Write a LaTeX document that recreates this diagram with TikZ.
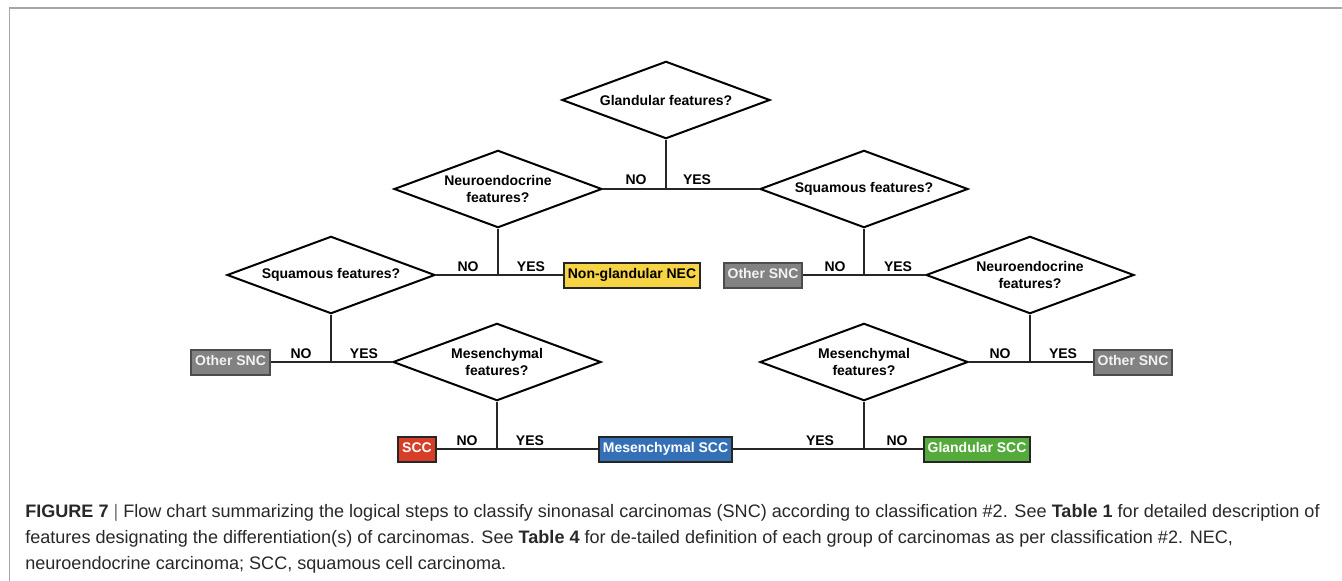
\documentclass[tikz,border=0pt]{standalone}
\usepackage{fontspec}
\setmainfont{Liberation Sans}
\usetikzlibrary{shapes.geometric,calc}

\definecolor{necyellow}{RGB}{246,212,68}
\definecolor{snsgray}{RGB}{130,130,130}
\definecolor{sccred}{RGB}{214,62,40}
\definecolor{mesblue}{RGB}{52,112,182}
\definecolor{glagreen}{RGB}{84,170,58}
\definecolor{framegray}{RGB}{165,165,165}
\definecolor{captext}{RGB}{40,40,40}

\begin{document}
\begin{tikzpicture}[x=0.75pt, y=-0.75pt,
		question/.style={diamond, draw=black, line width=1.5pt, aspect=2.7, inner sep=0pt,
			minimum width=156pt, minimum height=58pt, align=center,
			font=\fontsize{10.5}{12.75}\selectfont\bfseries},
		result/.style={rectangle, draw=black!85, line width=1.5pt, inner xsep=3pt, inner ysep=0pt,
			minimum height=18.75pt, text height=7.8pt, text depth=2pt, text=white,
			font=\fontsize{10.5}{12.75}\selectfont\bfseries},
		link/.style={line width=0.9pt, black!85},
		answer/.style={anchor=base, font=\fontsize{10.5}{12.75}\selectfont\bfseries},
		caption/.style={anchor=base west, inner sep=0pt, text=captext,
			font=\fontsize{13.55}{16}\selectfont}]
		\useasboundingbox (0,0) rectangle (1342,581);

		% Ramme
		\draw[framegray, line width=1pt] (1342,8) -- (9.5,8) -- (9.5,581);

		% Spørsmål
		\node[question] (glan) at (666,100) {Glandular features?};
		\node[question] (neuL) at (498,189) {Neuroendocrine\\features?};
		\node[question] (squR) at (864,189) {Squamous features?};
		\node[question] (squL) at (331,275) {Squamous features?};
		\node[question] (neuR) at (1030,275) {Neuroendocrine\\features?};
		\node[question] (mesL) at (497,362) {Mesenchymal\\features?};
		\node[question] (mesR) at (864,362) {Mesenchymal\\features?};

		% Grupper
		\node[result, fill=necyellow, text=black] (nec) at (632,275) {Non-glandular NEC};
		\node[result, fill=snsgray, draw=black!70, text=black!5] (othA) at (763,275) {Other SNC};
		\node[result, fill=snsgray, draw=black!70, text=black!5] (othB) at (230.5,362) {Other SNC};
		\node[result, fill=snsgray, draw=black!70, text=black!5] (othC) at (1133,362) {Other SNC};
		\node[result, fill=sccred] (scc) at (417,449) {SCC};
		\node[result, fill=mesblue] (mscc) at (665.5,449) {Mesenchymal SCC};
		\node[result, fill=glagreen] (gscc) at (977,449) {Glandular SCC};

		% Forgreiningspunkt
		\coordinate (jA) at (glan.south |- neuL.east);
		\coordinate (jB) at (neuL.south |- squL.east);
		\coordinate (jC) at (squR.south |- neuR.west);
		\coordinate (jD) at (squL.south |- mesL.west);
		\coordinate (jE) at (neuR.south |- mesR.east);
		\coordinate (jF) at (mesL.south |- scc.east);
		\coordinate (jG) at (mesR.south |- gscc.west);

		% Linjer
		\draw[link] (glan.south) -- (jA);
		\draw[link] (neuL.east) -- (squR.west);
		\draw[link] (neuL.south) -- (jB);
		\draw[link] (squL.east) -- (nec.west);
		\draw[link] (squR.south) -- (jC);
		\draw[link] (othA.east) -- (neuR.west);
		\draw[link] (squL.south) -- (jD);
		\draw[link] (othB.east) -- (mesL.west);
		\draw[link] (neuR.south) -- (jE);
		\draw[link] (mesR.east) -- (othC.west);
		\draw[link] (mesL.south) -- (jF);
		\draw[link] (scc.east) -- (mscc.west);
		\draw[link] (mesR.south) -- (jG);
		\draw[link] (mscc.east) -- (gscc.west);

		% Svar
		\node[answer] (noA) at ($(jA)+(-30,-4)$) {NO};
		\node[answer] (yesA) at ($(jA)+(31,-4)$) {YES};
		\node[answer] (noB) at ($(jB)+(-30,-4)$) {NO};
		\node[answer] (yesB) at ($(jB)+(33,-4)$) {YES};
		\node[answer] (noC) at ($(jC)+(-29,-4)$) {NO};
		\node[answer] (yesC) at ($(jC)+(34,-4)$) {YES};
		\node[answer] (noD) at ($(jD)+(-30,-4)$) {NO};
		\node[answer] (yesD) at ($(jD)+(33,-4)$) {YES};
		\node[answer] (noE) at ($(jE)+(-30,-4)$) {NO};
		\node[answer] (yesE) at ($(jE)+(33,-4)$) {YES};
		\node[answer] (noF) at ($(jF)+(-30,-4)$) {NO};
		\node[answer] (yesF) at ($(jF)+(33,-4)$) {YES};
		\node[answer] (yesG) at ($(jG)+(-44,-4)$) {YES};
		\node[answer] (noG) at ($(jG)+(33,-4)$) {NO};

		% Figurtekst
		\node[caption] (capA) at (25,517) {\textbf{FIGURE 7} {\color{black!55}|} Flow chart summarizing the logical steps to classify sinonasal carcinomas (SNC) according to classification \#2. See \textbf{Table 1} for detailed description of};
		\node[caption] (capB) at (25,543) {features designating the differentiation(s) of carcinomas. See \textbf{Table 4} for de-tailed definition of each group of carcinomas as per classification \#2. NEC,};
		\node[caption] (capC) at (25,569) {neuroendocrine carcinoma; SCC, squamous cell carcinoma.};
	\end{tikzpicture}
\end{document}
